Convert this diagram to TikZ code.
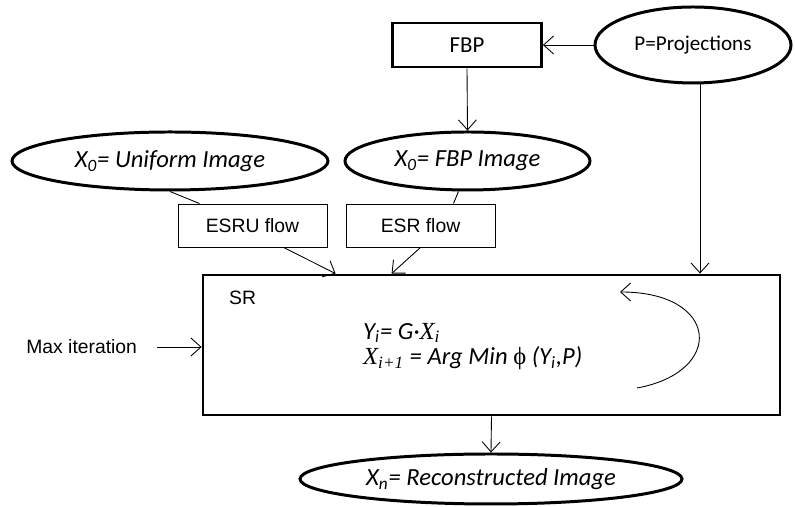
\documentclass[tikz,border=0pt]{standalone}
\usepackage{fontspec}
\setmainfont{Liberation Sans}
\newfontfamily\calfont{Carlito}
\newfontfamily\timesfont{Liberation Serif}
\usetikzlibrary{arrows.meta, shapes.geometric}

\tikzset{
  oval/.style={ellipse, draw, line width=1.7pt, inner sep=0pt,
    font=\calfont\itshape\fontsize{14}{16}\selectfont},
  boldbox/.style={rectangle, draw, line width=1.6pt, inner sep=0pt},
  flowbox/.style={rectangle, draw, line width=0.5pt, inner sep=0pt,
    minimum width=2.98cm, minimum height=0.86cm, font=\fontsize{11}{13}\selectfont},
  link/.style={line width=0.5pt},
  flow/.style={line width=0.5pt, -{Straight Barb[length=2mm,width=3.6mm]}},
}

\begin{document}
\begin{tikzpicture}[scale=1.0]
    \useasboundingbox (0,0) rectangle (15.9,10.14);

    % 输入: 投影与FBP
    \node[boldbox, minimum width=2.98cm, minimum height=0.88cm,
      font=\calfont\fontsize{13}{15}\selectfont] (fbp) at (9.34,9.24) {FBP};
    \node[oval, minimum width=3.92cm, minimum height=1.52cm,
      font=\calfont\fontsize{12}{14}\selectfont] (proj) at (13.86,9.24) {P=Projections};

    % 初始图像
    \node[oval, minimum width=6.32cm, minimum height=1.16cm] (uniform) at (3.40,6.92)
      {X\textsubscript{0}= Uniform Image};
    \node[oval, minimum width=4.9cm, minimum height=1.16cm] (fbpimg) at (9.35,6.92)
      {X\textsubscript{0}= FBP Image};

    % 两种流程
    \node[flowbox] (esru) at (5.05,5.63) {ESRU flow};
    \node[flowbox] (esr) at (8.41,5.63) {ESR flow};

    % SR 迭代框
    \node[boldbox, minimum width=11.54cm, minimum height=2.8cm] (sr) at (9.83,3.24) {};
    \node[anchor=west, font=\fontsize{11}{13}\selectfont] (srlabel) at (4.46,4.18) {SR};
    \node[anchor=west, font=\calfont\itshape\fontsize{14}{16}\selectfont] (eqy) at (7.14,3.48)
      {Y\textsubscript{i}= G·{\timesfont X\textsubscript{i}}};
    \node[anchor=west, font=\calfont\itshape\fontsize{14}{16}\selectfont] (eqx) at (7.14,2.98)
      {{\timesfont X\textsubscript{i+1}} = Arg Min {\upshape\timesfont ϕ} (Y\textsubscript{i},P)};

    % 循环箭头
    \coordinate (loopa) at (12.74,2.38);
    \coordinate (loopb) at (12.40,4.30);
    \draw[flow] (loopa) .. controls (14.5,2.7) and (14.4,4.3) .. (loopb);

    % 最大迭代次数
    \node[anchor=west, inner sep=0pt, font=\fontsize{11}{13}\selectfont] (maxit) at (0.52,3.2)
      {Max iteration};

    % 输出
    \node[oval, minimum width=7.64cm, minimum height=1.0cm] (recon) at (9.82,0.56)
      {X\textsubscript{n}= Reconstructed Image};

    % 连线
    \draw[flow] (proj.west) -- (fbp.east);
    \draw[flow] (fbp.south) -- (fbpimg.north);
    \coordinate (pdown) at ([xshift=0.14cm]proj.south);
    \draw[flow] (pdown) -- (pdown |- sr.north);
    \draw[link] (uniform.south) -- ([xshift=0.44cm]esru.north west);
    \draw[flow] ([xshift=-0.88cm]esru.south east) -- ([xshift=2.68cm]sr.north west);
    \draw[link] ([xshift=-0.18cm]fbpimg.south) -- ([xshift=-0.84cm]esr.north east);
    \draw[flow] (esr.south) -- ([xshift=3.8cm]sr.north west);
    \draw[flow] ([xshift=0.4cm]maxit.east) -- (maxit.east -| sr.west);
    \draw[flow] (sr.south) -- (recon.north);
\end{tikzpicture}
\end{document}
